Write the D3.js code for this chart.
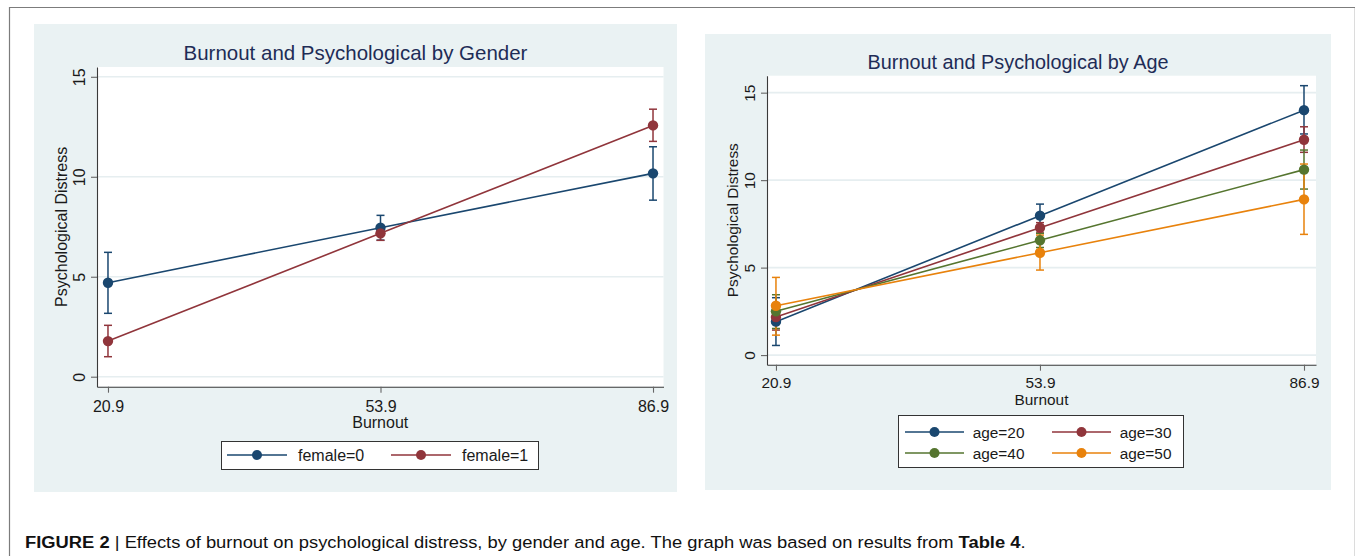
<!DOCTYPE html>
<html><head><meta charset="utf-8">
<script src="https://cdn.jsdelivr.net/npm/d3@7"></script>
<style>body{margin:0;background:#fff}svg{display:block}text{font-family:"Liberation Sans",Arial,Helvetica,sans-serif}</style>
</head><body><svg id="c" width="1355" height="556"></svg>
<script>
// ---------- data ----------
const burnoutLevels = [20.9, 53.9, 86.9];
const yTickValues = [0, 5, 10, 15];

const genderLabels = ["female=0", "female=1"];
const female0Mean = [4.70, 7.45, 10.17];
const female0Lo   = [3.17, 6.83, 8.83];
const female0Hi   = [6.22, 8.07, 11.50];
const female1Mean = [1.78, 7.17, 12.57];
const female1Lo   = [1.00, 6.82, 11.77];
const female1Hi   = [2.57, 7.52, 13.38];

const ageLabels = ["age=20", "age=30", "age=40", "age=50"];
const age20Mean = [1.91, 7.97, 14.00];
const age20Lo   = [0.55, 7.30, 12.64];
const age20Hi   = [3.28, 8.63, 15.40];
const age30Mean = [2.17, 7.28, 12.31];
const age30Lo   = [1.43, 6.98, 11.59];
const age30Hi   = [2.95, 7.57, 13.05];
const age40Mean = [2.50, 6.56, 10.60];
const age40Lo   = [1.52, 6.15, 9.49];
const age40Hi   = [3.45, 6.96, 11.72];
const age50Mean = [2.82, 5.85, 8.90];
const age50Lo   = [1.14, 4.86, 6.90];
const age50Hi   = [4.44, 6.86, 10.92];

const seriesColors = ["#1a476f", "#90353b", "#55752f", "#e8820c"];

const titleGender = "Burnout and Psychological by Gender";
const titleAge = "Burnout and Psychological by Age";
const xTitle = "Burnout";
const yTitle = "Psychological Distress";

// ---------- build ----------
function build(labels, means, los, his) {
  return labels.map((lab, i) => ({
    label: lab, color: seriesColors[i],
    pts: burnoutLevels.map((b, j) => ({ x: b, m: means[i][j], lo: los[i][j], hi: his[i][j] }))
  }));
}
const genderSeries = build(genderLabels, [female0Mean, female1Mean], [female0Lo, female1Lo], [female0Hi, female1Hi]);
const ageSeries = build(ageLabels, [age20Mean, age30Mean, age40Mean, age50Mean],
  [age20Lo, age30Lo, age40Lo, age50Lo], [age20Hi, age30Hi, age40Hi, age50Hi]);

const svg = d3.select("#c");
const BG = "#eaf2f3";

function fitFont(sel, target) {
  const w = sel.node().getComputedTextLength();
  const fs = parseFloat(sel.attr("font-size"));
  sel.attr("font-size", fs * target / w);
}

function panel(o) {
  const g = svg.append("g");
  g.append("rect").attr("x", o.bg[0]).attr("y", o.bg[1])
    .attr("width", o.bg[2] - o.bg[0]).attr("height", o.bg[3] - o.bg[1]).attr("fill", BG);
  const x = d3.scaleLinear().domain(o.xDom).range(o.xRange);
  const y = d3.scaleLinear().domain(o.yDom).range(o.yRange);
  const [x0, x1] = o.xRange, [yb, yt] = o.yRange;
  g.append("rect").attr("x", x0).attr("y", yt).attr("width", x1 - x0).attr("height", yb - yt).attr("fill", "#fff");
  // grid
  g.selectAll(".grid").data(yTickValues).join("line")
    .attr("x1", x0).attr("x2", x1).attr("y1", d => y(d)).attr("y2", d => y(d))
    .attr("stroke", "#e6eef0").attr("stroke-width", 1.6);
  // axes
  const ax = g.append("g").attr("transform", `translate(0,${yb})`)
    .call(d3.axisBottom(x).tickValues(burnoutLevels).tickFormat(d3.format(".1f"))
      .tickSize(6).tickSizeOuter(0).tickPadding(o.xPad));
  ax.selectAll("text").attr("font-size", o.fs).attr("fill", "#1a1a1a")
    .style("font-family", '"Liberation Sans",Arial,sans-serif');
  const ay = g.append("g").attr("transform", `translate(${x0},0)`)
    .call(d3.axisLeft(y).tickValues(yTickValues).tickSize(6).tickSizeOuter(0));
  ay.selectAll("text").attr("font-size", o.fs).attr("fill", "#1a1a1a")
    .style("font-family", '"Liberation Sans",Arial,sans-serif')
    .attr("x", 0).attr("y", -12).attr("dy", 0).attr("text-anchor", "middle")
    .attr("transform", "rotate(-90)");
  [ax, ay].forEach(a => {
    a.select(".domain").attr("stroke", "#3a3a3a").attr("stroke-width", 1.1);
    a.selectAll(".tick line").attr("stroke", "#666").attr("stroke-width", 1.1);
  });
  // CIs
  const cap = 4;
  o.series.forEach(s => {
    const cg = g.append("g").attr("stroke", s.color).attr("stroke-width", 1.5).attr("fill", "none");
    s.pts.forEach(p => {
      cg.append("line").attr("x1", x(p.x)).attr("x2", x(p.x)).attr("y1", y(p.lo)).attr("y2", y(p.hi));
      cg.append("line").attr("x1", x(p.x) - cap).attr("x2", x(p.x) + cap).attr("y1", y(p.lo)).attr("y2", y(p.lo));
      cg.append("line").attr("x1", x(p.x) - cap).attr("x2", x(p.x) + cap).attr("y1", y(p.hi)).attr("y2", y(p.hi));
    });
  });
  // lines + markers
  const line = d3.line().x(p => x(p.x)).y(p => y(p.m));
  o.series.forEach(s => {
    g.append("path").attr("d", line(s.pts)).attr("fill", "none").attr("stroke", s.color).attr("stroke-width", 1.6);
    g.selectAll(null).data(s.pts).join("circle").attr("cx", p => x(p.x)).attr("cy", p => y(p.m))
      .attr("r", 5.2).attr("fill", s.color);
  });
  // titles
  const t = g.append("text").attr("x", (o.bg[0] + o.bg[2]) / 2).attr("y", o.titleY)
    .attr("text-anchor", "middle").attr("font-size", 20).attr("fill", "#1e2c56").text(o.title);
  fitFont(t, o.titleW);
  g.append("text").attr("x", (x0 + x1) / 2).attr("y", o.xTitleY).attr("text-anchor", "middle")
    .attr("font-size", o.fs).attr("fill", "#1a1a1a").text(xTitle);
  g.append("text").attr("transform", `translate(${o.yTitleX},${(yb + yt) / 2}) rotate(-90)`)
    .attr("text-anchor", "middle").attr("font-size", o.fs).attr("fill", "#1a1a1a").text(yTitle);
  // legend
  const L = o.legend;
  g.append("rect").attr("x", L.box[0] + 0.5).attr("y", L.box[1] + 0.5)
    .attr("width", L.box[2] - L.box[0]).attr("height", L.box[3] - L.box[1])
    .attr("fill", "#fff").attr("stroke", "#333").attr("stroke-width", 1);
  o.series.forEach((s, i) => {
    const col = i % L.cols, row = Math.floor(i / L.cols);
    const lx = L.box[0] + L.start + col * L.colW;
    const ly = L.rows[row];
    g.append("line").attr("x1", lx).attr("x2", lx + L.lineW).attr("y1", ly).attr("y2", ly)
      .attr("stroke", s.color).attr("stroke-width", 1.6);
    g.append("circle").attr("cx", lx + L.lineW / 2).attr("cy", ly).attr("r", 5).attr("fill", s.color);
    g.append("text").attr("x", lx + L.textOff).attr("y", ly + o.fs * 0.36).attr("font-size", o.fs)
      .attr("fill", "#1a1a1a").text(s.label);
  });
}

panel({
  bg: [34, 24, 677, 492], title: titleGender, titleY: 59.5, titleW: 344,
  xDom: [19.57, 88.17], xRange: [97, 663.5], yDom: [-0.5, 15.49], yRange: [386.7, 67],
  series: genderSeries, fs: 16, xPad: 8, xTitleY: 427.8, yTitleX: 67,
  legend: { box: [221, 441, 538, 469], rows: [455], cols: 2, start: 6, colW: 164, lineW: 60, textOff: 71 }
});
panel({
  bg: [705, 34, 1331, 490], title: titleAge, titleY: 68.7, titleW: 301,
  xDom: [19.78, 88.4], xRange: [767, 1316], yDom: [-0.55, 15.97], yRange: [364.7, 75.7],
  series: ageSeries, fs: 15.4, xPad: 6, xTitleY: 404.5, yTitleX: 738,
  legend: { box: [898, 415, 1183, 467], rows: [432, 453], cols: 2, start: 7, colW: 147, lineW: 59, textOff: 67.7 }
});

// outer frame
svg.append("line").attr("x1", 9).attr("x2", 1355).attr("y1", 7.5).attr("y2", 7.5).attr("stroke", "#7c7c7c").attr("stroke-width", 1.2);
svg.append("line").attr("x1", 9.5).attr("x2", 9.5).attr("y1", 7).attr("y2", 556).attr("stroke", "#7c7c7c").attr("stroke-width", 1.2);
svg.append("line").attr("x1", 1354.5).attr("x2", 1354.5).attr("y1", 8).attr("y2", 556).attr("stroke", "#dcdcdc").attr("stroke-width", 1);

// caption (slightly condensed, as in the reference)
const cap = svg.append("text").attr("x", 0).attr("y", 0).attr("font-size", 17).attr("fill", "#111");
cap.append("tspan").attr("font-weight", "bold").text("FIGURE 2");
cap.append("tspan").text(" | Effects of burnout on psychological distress, by gender and age. The graph was based on results from ");
cap.append("tspan").attr("font-weight", "bold").text("Table 4");
cap.append("tspan").text(".");
const capW = cap.node().getComputedTextLength();
cap.attr("transform", `translate(25,547.5) scale(${1001 / capW},1)`);
</script>
</body></html>
